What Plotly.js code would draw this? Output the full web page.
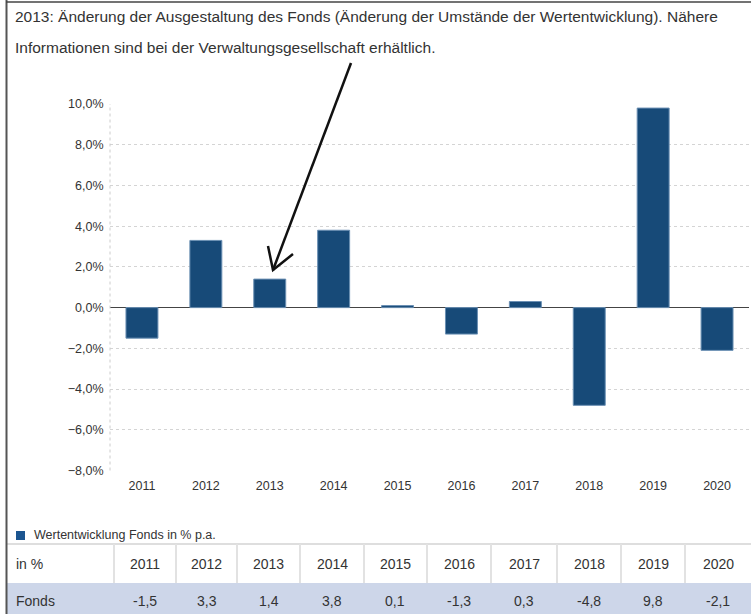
<!DOCTYPE html>
<html>
<head>
<meta charset="utf-8">
<script src="https://cdn.plot.ly/plotly-3.0.1.min.js"></script>
<style>html,body{margin:0;padding:0;background:#fff;}#chart{width:751px;height:614px;}</style>
</head>
<body>
<div id="chart"></div>
<script>
// ---- data ----
const years = ['2011','2012','2013','2014','2015','2016','2017','2018','2019','2020'];
const fonds = [-1.5, 3.3, 1.4, 3.8, 0.1, -1.3, 0.3, -4.8, 9.8, -2.1];
const titleLines = [
  '2013: Änderung der Ausgestaltung des Fonds (Änderung der Umstände der Wertentwicklung). Nähere',
  'Informationen sind bei der Verwaltungsgesellschaft erhältlich.'
];
const legendLabel = 'Wertentwicklung Fonds in % p.a.';
const tableRowLabel = 'Fonds';
const tableHeadLabel = 'in %';

// ---- layout helpers (pixel -> paper) ----
const W = 751, H = 614;
const px = x => x / W;
const py = y => 1 - y / H;
const FONT = 'Liberation Sans, Arial, sans-serif';
const TXT = '#333333';
const fmt = v => v.toFixed(1).replace('.', ',');

const plotL = 110, plotR = 749, plotT = 104, plotB = 470.5;

const bars = {
  type: 'bar',
  x: years,
  y: fonds,
  marker: {color: '#174a78', line: {color: '#6a8fb3', width: 1}},
  hoverinfo: 'skip',
  showlegend: false
};

const ann = [];
const shapes = [];

// title
titleLines.forEach((t, i) => {
  ann.push({
    text: t, xref: 'paper', yref: 'paper', x: px(13), y: py(i === 0 ? 16 : 47),
    xanchor: 'left', yanchor: 'middle', showarrow: false,
    font: {family: FONT, size: 15.5, color: TXT}
  });
});

// legend
shapes.push({type: 'rect', xref: 'paper', yref: 'paper', x0: px(16), x1: px(25), y0: py(540), y1: py(531), fillcolor: '#1c5590', line: {width: 0}});
ann.push({
  text: legendLabel, xref: 'paper', yref: 'paper', x: px(32), y: py(535),
  xanchor: 'left', yanchor: 'middle', showarrow: false,
  font: {family: FONT, size: 12.5, color: TXT}
});

// table (built from the data arrays)
const tTop = 544, tMid = 583, tBot = 614, tLeft = 7;
const colEdges = [114, 176, 237, 300, 364, 427, 491, 557, 621, 685, 751];
shapes.push({type: 'rect', xref: 'paper', yref: 'paper', x0: px(tLeft), x1: 1, y0: py(tBot), y1: py(tMid), fillcolor: '#cdd6e9', line: {width: 0}, layer: 'below'});
shapes.push({type: 'line', xref: 'paper', yref: 'paper', x0: px(tLeft), x1: 1, y0: py(tTop), y1: py(tTop), line: {color: '#dedede', width: 2}});
colEdges.slice(0, -1).forEach(e => {
  shapes.push({type: 'line', xref: 'paper', yref: 'paper', x0: px(e), x1: px(e), y0: py(tTop), y1: py(tMid), line: {color: '#e2e2e2', width: 2}});
});
const cellFont = {family: FONT, size: 14, color: TXT};
ann.push({text: tableHeadLabel, xref: 'paper', yref: 'paper', x: px(14), y: py(563.5), xanchor: 'left', yanchor: 'middle', showarrow: false, font: cellFont});
ann.push({text: tableRowLabel, xref: 'paper', yref: 'paper', x: px(14), y: py(601), xanchor: 'left', yanchor: 'middle', showarrow: false, font: cellFont});
years.forEach((yr, i) => {
  const cx = (colEdges[i] + colEdges[i + 1]) / 2;
  ann.push({text: yr, xref: 'paper', yref: 'paper', x: px(cx), y: py(563.5), xanchor: 'center', yanchor: 'middle', showarrow: false, font: cellFont});
  ann.push({text: fmt(fonds[i]), xref: 'paper', yref: 'paper', x: px(cx), y: py(601), xanchor: 'center', yanchor: 'middle', showarrow: false, font: cellFont});
});

const pathFromPx = pts => pts.map(p => p[0] + px(p[1]) + ',' + py(p[2])).join(' ');

shapes.push(
  // frame
  {type: 'line', xref: 'paper', yref: 'paper', x0: px(6.5), x1: px(6.5), y0: 0, y1: 1, line: {color: '#555', width: 2}},
  {type: 'line', xref: 'paper', yref: 'paper', x0: px(6), x1: 1, y0: py(2), y1: py(2), line: {color: '#444', width: 1.5}},
  // dotted y axis line
  {type: 'line', xref: 'paper', yref: 'paper', x0: px(plotL), x1: px(plotL), y0: py(plotB), y1: py(plotT), line: {color: '#cccccc', width: 1, dash: 'dot'}},
  // hand-drawn arrow
  {type: 'path', xref: 'paper', yref: 'paper', path: pathFromPx([['M',351,63],['L',273,270]]), line: {color: '#111', width: 2.5}},
  {type: 'path', xref: 'paper', yref: 'paper', path: pathFromPx([['M',268,246],['L',273,270],['L',293,254]]), line: {color: '#111', width: 2.5}}
);

const layout = {
  width: W, height: H,
  margin: {l: 0, r: 0, t: 0, b: 0},
  paper_bgcolor: '#fff', plot_bgcolor: '#fff',
  separators: ',.',
  bargap: 0.5,
  font: {family: FONT, color: TXT},
  xaxis: {
    domain: [px(plotL), px(plotR)],
    type: 'category',
    showgrid: false, zeroline: false, showline: false,
    ticks: 'outside', ticklen: 3, tickcolor: 'rgba(0,0,0,0)',
    tickfont: {family: FONT, size: 12.5, color: TXT},
    fixedrange: true
  },
  yaxis: {
    domain: [py(plotB), py(plotT)],
    range: [-8, 10],
    dtick: 2, tick0: 0,
    tickformat: '.1f', ticksuffix: '%',
    showgrid: true, gridcolor: '#d4d4d4', gridwidth: 1, griddash: 'dot',
    zeroline: true, zerolinecolor: '#444', zerolinewidth: 1.5,
    showline: false,
    ticks: 'outside', ticklen: 3, tickcolor: 'rgba(0,0,0,0)',
    tickfont: {family: FONT, size: 12.5, color: TXT},
    fixedrange: true
  },
  annotations: ann,
  shapes: shapes
};

Plotly.newPlot('chart', [bars], layout, {displayModeBar: false, staticPlot: true});
</script>
</body>
</html>
